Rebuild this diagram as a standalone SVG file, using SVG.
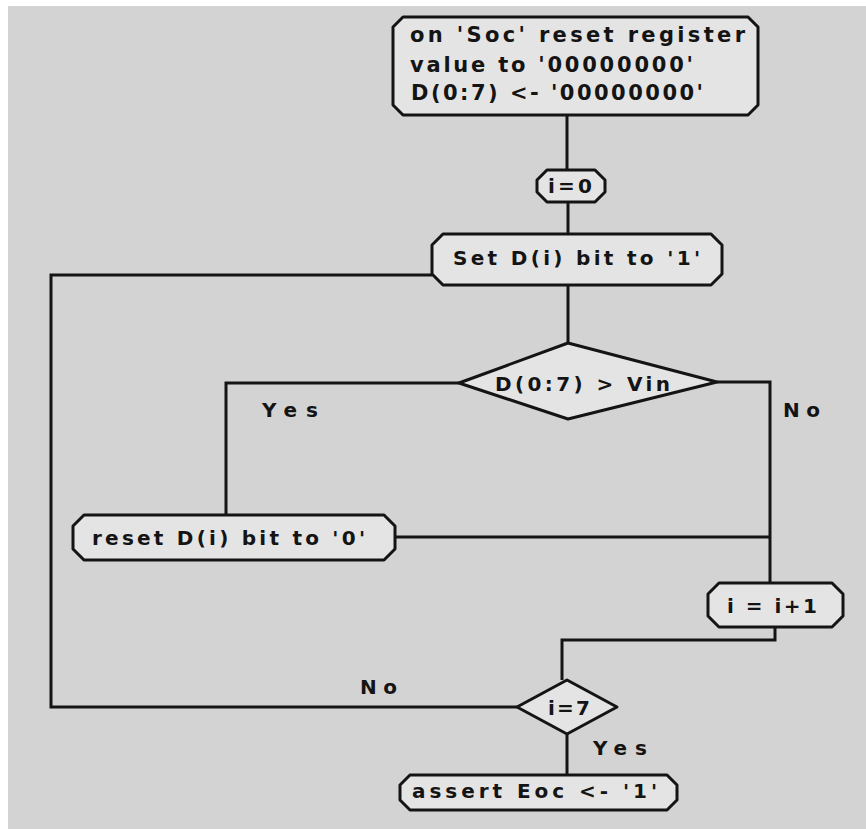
<svg xmlns="http://www.w3.org/2000/svg" width="866" height="829" viewBox="0 0 866 829">
<style>
.bg{fill:#d3d3d3}
.node{fill:#e4e4e4;stroke:#141414;stroke-width:3;stroke-linejoin:round}
.wire{fill:none;stroke:#141414;stroke-width:3;stroke-linejoin:miter}
text{font-family:"DejaVu Sans","Liberation Sans",Arial,sans-serif;font-weight:bold;font-size:20px;fill:#141414}
.big{font-size:21px}
</style>
<rect x="0" y="0" width="866" height="829" fill="#ffffff"/>
<rect class="bg" x="8" y="6" width="858" height="823"/>
<g id="connectors">
<path class="wire" d="M567 115V170"/>
<path class="wire" d="M568 202V234"/>
<path class="wire" d="M568 285V343"/>
<path class="wire" d="M459 383H226V515"/>
<path class="wire" d="M717 382H770V583"/>
<path class="wire" d="M395 537H770"/>
<path class="wire" d="M775 627V640H562V680"/>
<path class="wire" d="M517 707H51V275H432"/>
<path class="wire" d="M567 734V775"/>
</g>
<g id="n-start">
<path class="node" d="M403 17H748L758 27V105L748 115H403L393 105V27Z"/>
<text class="big" x="410" y="42" textLength="335" lengthAdjust="spacing">on 'Soc' reset register</text>
<text class="big" x="410" y="72" textLength="283" lengthAdjust="spacing">value to '00000000'</text>
<text class="big" x="411" y="100" textLength="292" lengthAdjust="spacing">D(0:7) &lt;- '00000000'</text>
</g>
<g id="n-i0">
<path class="node" d="M547 170H595L605 180V192L595 202H547L537 192V180Z"/>
<text x="548" y="193" textLength="44" lengthAdjust="spacing">i=0</text>
</g>
<g id="n-set">
<path class="node" d="M443 234H711L722 245V274L711 285H443L432 274V245Z"/>
<text x="453" y="265" textLength="247" lengthAdjust="spacing">Set D(i) bit to '1'</text>
</g>
<g id="n-cmp">
<path class="node" d="M568 343L717 382L568 419L459 383Z"/>
<text x="495" y="391" textLength="175" lengthAdjust="spacing">D(0:7) &gt; Vin</text>
</g>
<g id="n-reset">
<path class="node" d="M84 515H384L395 526V549L384 560H84L73 549V526Z"/>
<text x="92" y="545" textLength="273" lengthAdjust="spacing">reset D(i) bit to '0'</text>
</g>
<g id="n-inc">
<path class="node" d="M719 583H832L843 594V616L832 627H719L708 616V594Z"/>
<text x="727" y="613" textLength="90" lengthAdjust="spacing">i = i+1</text>
</g>
<g id="n-i7">
<path class="node" d="M567 680L617 707L567 734L517 707Z"/>
<text x="548" y="715" textLength="42" lengthAdjust="spacing">i=7</text>
</g>
<g id="n-end">
<path class="node" d="M410 775H667L677 785V800L667 810H410L400 800V785Z"/>
<text x="412" y="798" textLength="245" lengthAdjust="spacing">assert Eoc &lt;- '1'</text>
</g>
<g id="labels">
<text x="262" y="417" textLength="56" lengthAdjust="spacing">Yes</text>
<text x="783" y="417" textLength="37" lengthAdjust="spacing">No</text>
<text x="360" y="694" textLength="37" lengthAdjust="spacing">No</text>
<text x="593" y="755" textLength="54" lengthAdjust="spacing">Yes</text>
</g>
</svg>
